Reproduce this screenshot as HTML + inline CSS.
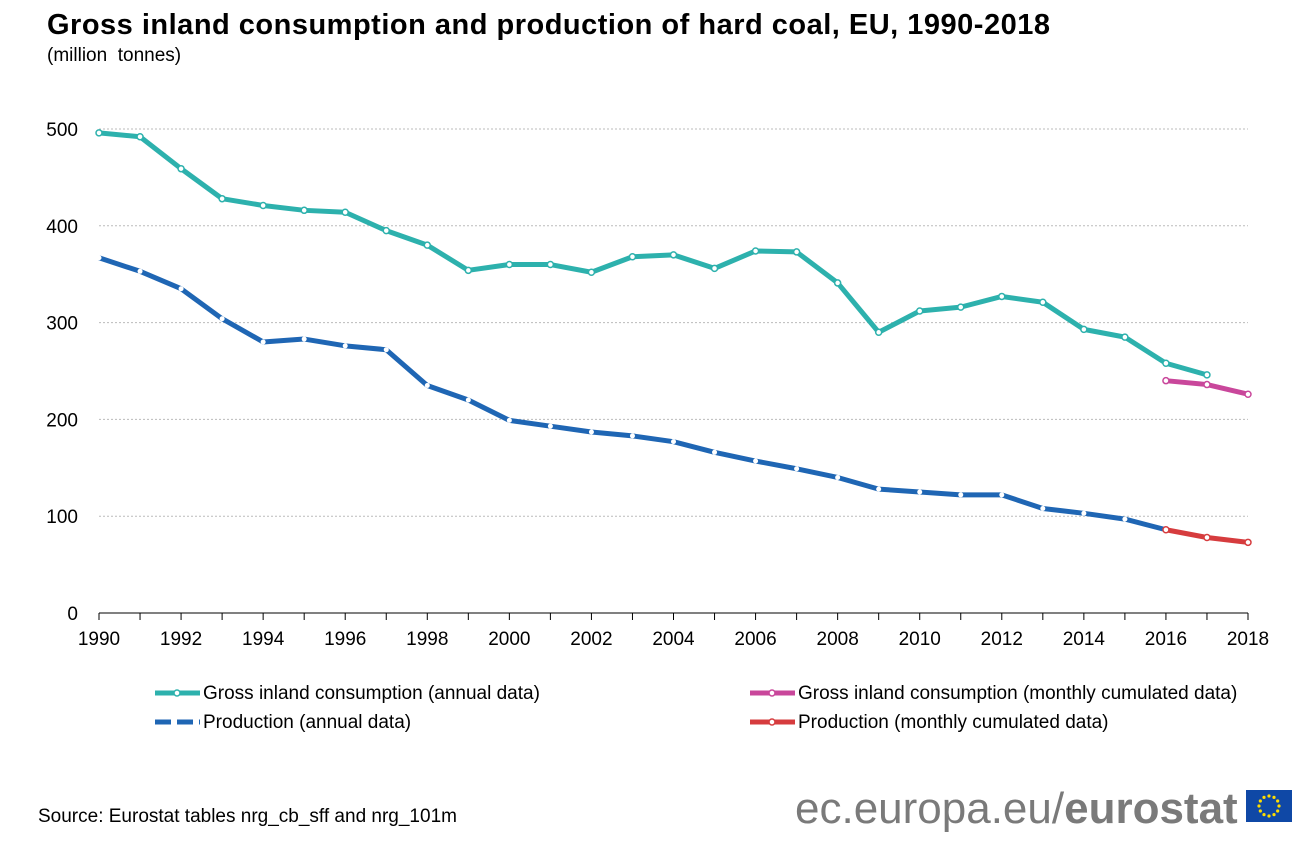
<!DOCTYPE html>
<html><head><meta charset="utf-8"><style>
body{margin:0;background:#fff;font-family:"Liberation Sans",Arial,sans-serif;}
#wrap{position:relative;width:1316px;height:846px;overflow:hidden;}
</style></head><body>
<div id="wrap">
<svg id="chart" width="1316" height="846" font-family="Liberation Sans, Arial, sans-serif">
<text x="47" y="34" font-size="29" font-weight="bold" fill="#000" textLength="1003">Gross inland consumption and production of hard coal, EU, 1990-2018</text>
<text x="47" y="61" font-size="19" fill="#000" xml:space="preserve">(million  tonnes)</text>
<g id="grid"></g><g id="axes"></g><g id="series"></g>
<g>
 <g>
  <line x1="155" y1="693" x2="200" y2="693" stroke="#2db1ad" stroke-width="5"/>
  <circle cx="177" cy="693" r="3" fill="#fff" stroke="#2db1ad" stroke-width="1.5"/>
  <text x="203" y="699" font-size="19">Gross inland consumption (annual data)</text></g>
 <g>
  <line x1="155" y1="722" x2="200" y2="722" stroke="#1f66b4" stroke-width="5" stroke-dasharray="16,6"/>
  <text x="203" y="728" font-size="19">Production (annual data)</text></g>
 <g>
  <line x1="750" y1="693" x2="795" y2="693" stroke="#c9479b" stroke-width="5"/>
  <circle cx="772" cy="693" r="3" fill="#fff" stroke="#c9479b" stroke-width="1.5"/>
  <text x="798" y="699" font-size="19">Gross inland consumption (monthly cumulated data)</text></g>
 <g>
  <line x1="750" y1="722" x2="795" y2="722" stroke="#d63c3e" stroke-width="5"/>
  <circle cx="772" cy="722" r="3" fill="#fff" stroke="#d63c3e" stroke-width="1.5"/>
  <text x="798" y="728" font-size="19">Production (monthly cumulated data)</text></g>
</g>
<text x="38" y="822" font-size="19">Source: Eurostat tables nrg_cb_sff and nrg_101m</text>
<text x="795" y="823" font-size="44" fill="#7a7a7a">ec.europa.eu/<tspan font-weight="bold">eurostat</tspan></text>
<g>
 <rect x="1246" y="790" width="46" height="32" fill="#0f48a6"/>
 <g id="stars" fill="#ffdd00"></g>
</g>
</svg>
</div>
<script>
const years=[1990,1991,1992,1993,1994,1995,1996,1997,1998,1999,2000,2001,2002,2003,2004,2005,2006,2007,2008,2009,2010,2011,2012,2013,2014,2015,2016,2017];
const consumptionAnnual=[496,492,459,428,421,416,414,395,380,354,360,360,352,368,370,356,374,373,341,290,312,316,327,321,293,285,258,246];
const productionAnnual=[367,353,335,304,280,283,276,272,235,220,199,193,187,183,177,166,157,149,140,128,125,122,122,108,103,97,86];
const monthlyYears=[2016,2017,2018];
const consumptionMonthly=[240,236,226];
const productionMonthly=[86,78,73];
const yTicks=[0,100,200,300,400,500];
const xTickLabels=[1990,1992,1994,1996,1998,2000,2002,2004,2006,2008,2010,2012,2014,2016,2018];
const NS="http://www.w3.org/2000/svg";
const x=yr=>99+(yr-1990)*(1248-99)/28;
const y=v=>613-v*(613-129)/500;
function mk(tag,attrs,parent){const e=document.createElementNS(NS,tag);for(const k in attrs)e.setAttribute(k,attrs[k]);parent.appendChild(e);return e;}
const grid=document.getElementById('grid'),axes=document.getElementById('axes'),ser=document.getElementById('series');
yTicks.forEach(t=>{
 if(t>0){const l=mk('line',{x1:99,x2:1248,y1:y(t),y2:y(t),stroke:'#bbb','stroke-width':1,'stroke-dasharray':'2,2'},grid);
 
 }
 const tx=mk('text',{x:78,y:y(t)+7,'font-size':19,'text-anchor':'end'},axes);tx.textContent=t;
 
 
});
const ax=mk('line',{x1:99,x2:1248,y1:613,y2:613,stroke:'#000','stroke-width':1},axes);


for(let yr=1990;yr<=2018;yr++){mk('line',{x1:x(yr),x2:x(yr),y1:613,y2:620,stroke:'#000'},axes);}
xTickLabels.forEach(yr=>{const tx=mk('text',{x:x(yr),y:645,'font-size':19,'text-anchor':'middle'},axes);tx.textContent=yr;
 
 });
function series(xs,vals,color,name,dashed){
 const g=mk('g',{},ser);
 
 
 const pts=vals.map((v,i)=>x(xs[i])+','+y(v)).join(' ');
 mk('polyline',{points:pts,fill:'none',stroke:color,'stroke-width':5,'stroke-linejoin':'round'},g);
 vals.forEach((v,i)=>{
  if(dashed) mk('circle',{cx:x(xs[i]),cy:y(v),r:2.5,fill:'#fff'},g);
  else mk('circle',{cx:x(xs[i]),cy:y(v),r:3,fill:'#fff',stroke:color,'stroke-width':1.5},g);
 });
}
series(years,consumptionAnnual,'#2db1ad','line-consumption-annual',false);
series(years.slice(0,productionAnnual.length),productionAnnual,'#1f66b4','line-production-annual',true);
series(monthlyYears,consumptionMonthly,'#c9479b','line-consumption-monthly',false);
series(monthlyYears,productionMonthly,'#d63c3e','line-production-monthly',false);
const st=document.getElementById('stars');
for(let i=0;i<12;i++){const a=i*Math.PI/6;mk('circle',{cx:1269+10*Math.cos(a),cy:806+10*Math.sin(a),r:1.6},st);}
</script>
</body></html>
